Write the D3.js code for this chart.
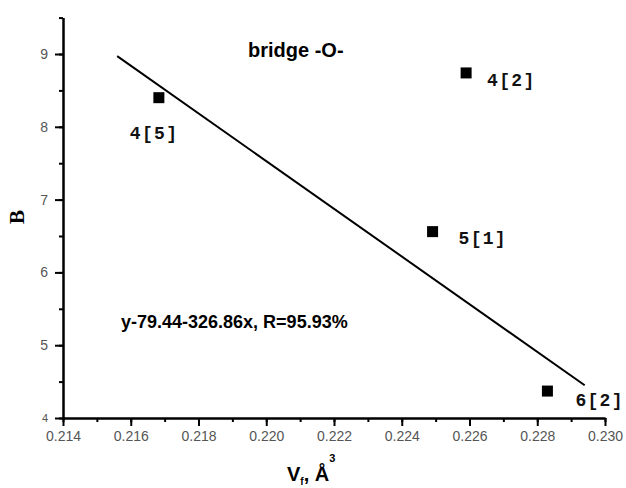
<!DOCTYPE html>
<meta charset="utf-8">
<head>
<style>
body { margin: 0; background: #fff; }
.axis path, .axis line { stroke: #000; stroke-width: 2; fill: none; }
.axis text { font: 14px "Liberation Sans", Arial, sans-serif; fill: #555; }
.lbl { font: bold 18px "Liberation Mono", "Courier New", monospace; letter-spacing: 1.3px; fill: #111; }
</style>
</head>
<body>
<script src="https://cdn.jsdelivr.net/npm/d3@7/dist/d3.min.js"></script>
<script>
// points
var vf = [0.21683, 0.22590, 0.22491, 0.22830];
var bVals = [8.40, 8.74, 6.56, 4.37];
var ptLabels = ["4[5]", "4[2]", "5[1]", "6[2]"];
// label offsets (px) relative to point
var lblDx = [-29, 21, 26, 28];
var lblDy = [41, 13, 12, 15];

// fitted line ends
var fitX = [0.2156, 0.2294];
var fitY = [8.97, 4.45];

var xMajor = [0.214, 0.216, 0.218, 0.220, 0.222, 0.224, 0.226, 0.228, 0.230];
var yMajor = [4, 5, 6, 7, 8, 9];

var W = 626, H = 488;
var svg = d3.select("body").append("svg")
    .attr("width", W)
    .attr("height", H);

var x = d3.scaleLinear().domain([0.214, 0.230]).range([63, 605]);
var y = d3.scaleLinear().domain([4, 9.5]).range([418, 17.6]);

var xMinor = d3.range(0.214, 0.2305, 0.001);
var yMinor = d3.range(4, 9.55, 0.5);

// minor ticks first
svg.append("g").attr("class", "axis")
    .attr("transform", "translate(0,418)")
    .call(d3.axisBottom(x).tickValues(xMinor).tickSize(4).tickFormat("").tickSizeOuter(0));
svg.append("g").attr("class", "axis")
    .attr("transform", "translate(63,0)")
    .call(d3.axisLeft(y).tickValues(yMinor).tickSize(4).tickFormat("").tickSizeOuter(0));

var gx = svg.append("g").attr("class", "axis")
    .attr("transform", "translate(0,418)")
    .call(d3.axisBottom(x).tickValues(xMajor).tickSize(8).tickPadding(5)
        .tickFormat(d3.format(".3f")).tickSizeOuter(0));

var gy = svg.append("g").attr("class", "axis")
    .attr("transform", "translate(63,0)")
    .call(d3.axisLeft(y).tickValues(yMajor).tickSize(8).tickPadding(7)
        .tickFormat(d3.format("d")).tickSizeOuter(0));
gy.selectAll(".tick text").filter(function(d) { return d == 4; })
    .style("font-size", "11px");

// regression line
var fit = fitX.map(function(d, i) { return { x: d, y: fitY[i] }; });
svg.append("path")
    .datum(fit)
    .attr("d", d3.line().x(d => x(d.x)).y(d => y(d.y)))
    .attr("stroke", "#000")
    .attr("stroke-width", 2)
    .attr("fill", "none");

// squares
svg.selectAll(".pt")
    .data(vf)
    .enter().append("rect")
    .attr("class", "pt")
    .attr("x", (d, i) => x(d) - 5.5)
    .attr("y", (d, i) => y(bVals[i]) - 5.5)
    .attr("width", 11)
    .attr("height", 11)
    .attr("fill", "#000");

svg.selectAll(".lbl")
    .data(ptLabels)
    .enter().append("text")
    .attr("class", "lbl")
    .attr("x", (d, i) => x(vf[i]) + lblDx[i])
    .attr("y", (d, i) => y(bVals[i]) + lblDy[i])
    .text(d => d);

svg.append("text")
    .attr("x", 248)
    .attr("y", 57)
    .style("font", "bold 20px 'Liberation Sans', Arial, sans-serif")
    .text("bridge -O-");

svg.append("text")
    .attr("x", 121)
    .attr("y", 328)
    .style("font", "bold 18px 'Liberation Sans', Arial, sans-serif")
    .text("y-79.44-326.86x, R=95.93%");

// axis titles
var xt = svg.append("text")
    .attr("x", 287)
    .attr("y", 481)
    .style("font", "bold 20px 'Liberation Sans', Arial, sans-serif");
xt.append("tspan").text("V");
xt.append("tspan").attr("dy", 4).style("font-size", "10px").text("f");
xt.append("tspan").attr("dy", -4).text(", Å");
xt.append("tspan").attr("dy", -19).attr("dx", 0).style("font-size", "11px").text("3");

svg.append("text")
    .attr("transform", "translate(24,217) rotate(-90)")
    .attr("text-anchor", "middle")
    .style("font", "bold 21px 'Liberation Serif', 'Times New Roman', serif")
    .text("B");
</script>
</body>
